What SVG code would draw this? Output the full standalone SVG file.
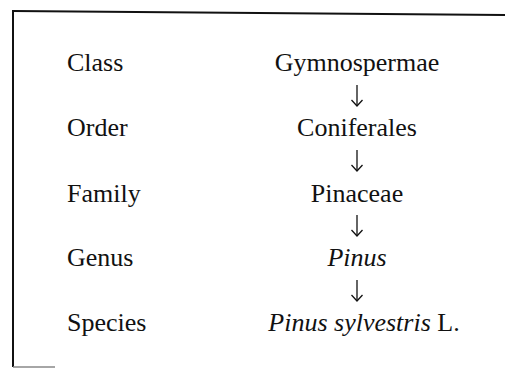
<svg xmlns="http://www.w3.org/2000/svg" width="507" height="377" viewBox="0 0 507 377">
<defs>
<style>
.t{font-family:"Liberation Serif","Times New Roman",serif;font-size:26px;fill:#111}
.c{text-anchor:middle}
.i{font-style:italic}
.frame{stroke:#111;stroke-width:2;fill:none}
.arr{stroke:#111;stroke-width:1.3;fill:none}
</style>
<marker id="ah" viewBox="0 0 12 10" refX="6" refY="9" markerWidth="12" markerHeight="10" markerUnits="userSpaceOnUse" orient="0">
<path d="M0.5,3 L6,9 L11.5,3" fill="none" stroke="#111" stroke-width="1.3"/>
</marker>
</defs>
<rect width="507" height="377" fill="#fff"/>
<g id="frame">
<path class="frame" d="M13,11 L505,15"/>
<path class="frame" d="M13,10 L13,367"/>
<path d="M13,367 L55,367" stroke="#888" stroke-width="1.5" fill="none"/>
</g>
<g id="labels">
<text class="t" x="67" y="71">Class</text>
<text class="t" x="67" y="136">Order</text>
<text class="t" x="67" y="202">Family</text>
<text class="t" x="67" y="266">Genus</text>
<text class="t" x="67" y="331">Species</text>
</g>
<g id="n-class"><text class="t c" x="357" y="71">Gymnospermae</text></g>
<g id="n-order"><text class="t c" x="357" y="136">Coniferales</text></g>
<g id="n-family"><text class="t c" x="357" y="202">Pinaceae</text></g>
<g id="n-genus"><text class="t c i" x="357" y="266">Pinus</text></g>
<g id="n-species"><text class="t c" x="364" y="331"><tspan class="i">Pinus sylvestris</tspan> L.</text></g>
<g id="connectors">
<line class="arr" x1="357" y1="85" x2="357" y2="106" marker-end="url(#ah)"/>
<line class="arr" x1="357" y1="150" x2="357" y2="171" marker-end="url(#ah)"/>
<line class="arr" x1="357" y1="215" x2="357" y2="236" marker-end="url(#ah)"/>
<line class="arr" x1="357" y1="280" x2="357" y2="301" marker-end="url(#ah)"/>
</g>
</svg>
